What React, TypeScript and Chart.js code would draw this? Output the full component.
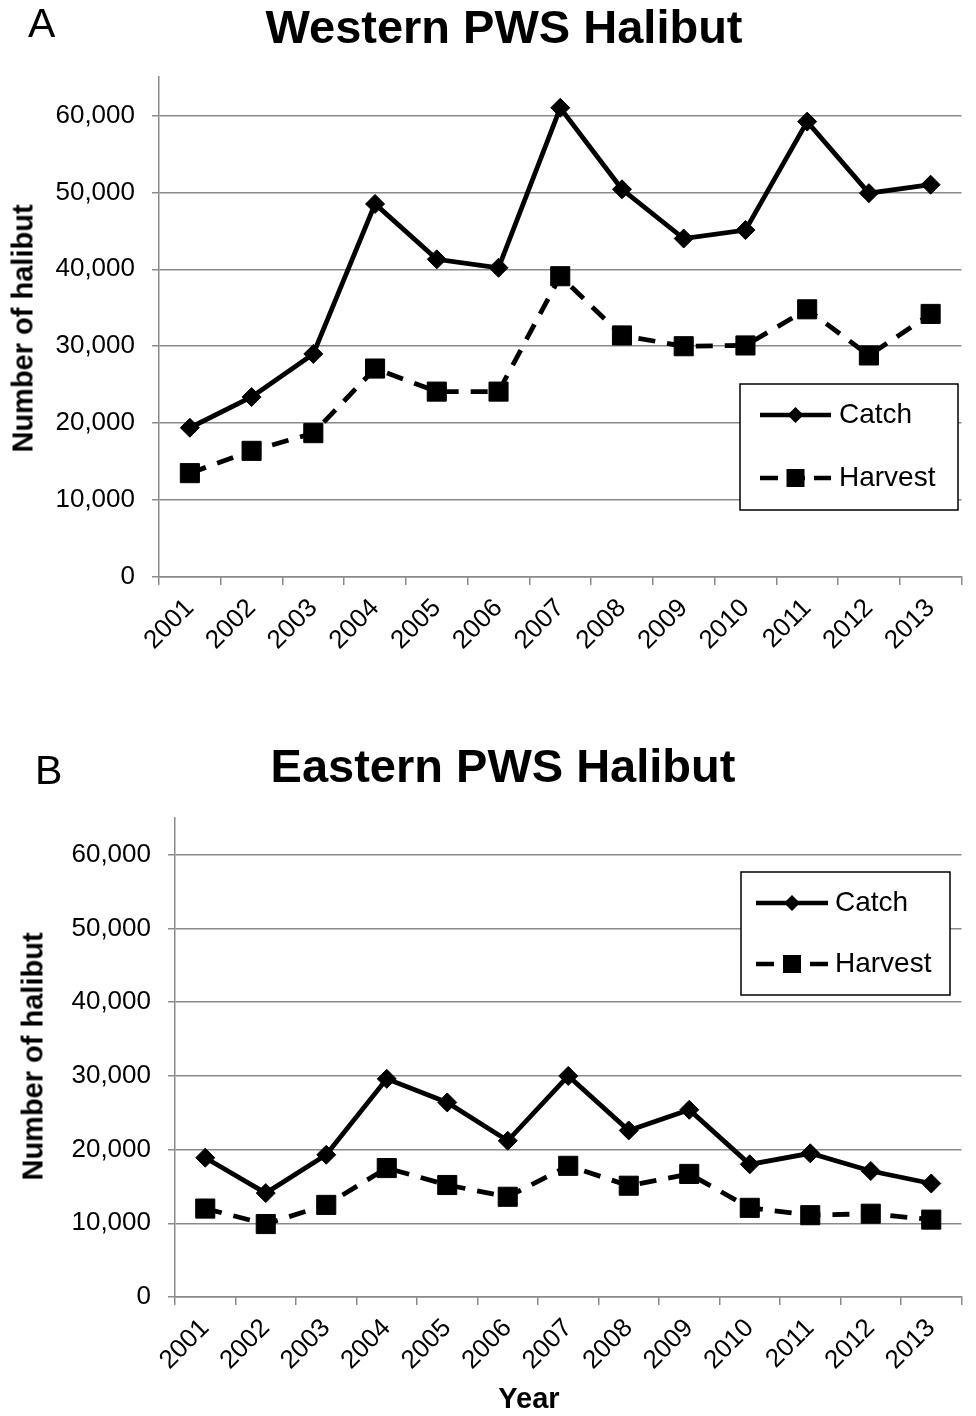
import React, { useEffect, useRef } from 'react';
import { Chart, registerables } from 'chart.js';

Chart.register(...registerables);

// ---------- data ----------
const years = ['2001', '2002', '2003', '2004', '2005', '2006', '2007', '2008', '2009', '2010', '2011', '2012', '2013'];
const westernCatch = [19400, 23400, 29000, 48500, 41300, 40200, 61000, 50400, 44000, 45100, 59200, 49900, 51000];
const westernHarvest = [13500, 16400, 18700, 27100, 24100, 24100, 39100, 31400, 30000, 30100, 34800, 28800, 34200];
const easternCatch = [18900, 14100, 19300, 29600, 26400, 21200, 30000, 22600, 25400, 18000, 19500, 17100, 15400];
const easternHarvest = [12000, 9900, 12500, 17500, 15200, 13600, 17800, 15100, 16700, 12100, 11100, 11300, 10500];
const yTickValues = [0, 10000, 20000, 30000, 40000, 50000, 60000];
const yMax = 65000;
const seriesNames = ['Catch', 'Harvest'];

const FONT = "'Liberation Sans', Arial, Helvetica, sans-serif";
const GRID = '#8a8a8a';
const TICK_FONT = 26;

type Box = { left: number; top: number; right: number; bottom: number; row1: number; row2: number; lineX0: number; lineX1: number; textX: number };

type PanelProps = {
  canvasTop: number;
  canvasHeight: number;
  plotTop: number;
  plotBottom: number;
  plotLeft: number;
  plotRight: number;
  catchData: number[];
  harvestData: number[];
  legend: Box;
};

function drawDiamond(ctx: CanvasRenderingContext2D, x: number, y: number, r: number) {
  ctx.beginPath();
  ctx.moveTo(x - r, y);
  ctx.lineTo(x, y - r);
  ctx.lineTo(x + r, y);
  ctx.lineTo(x, y + r);
  ctx.closePath();
  ctx.fill();
}

function Panel(p: PanelProps) {
  const ref = useRef<HTMLCanvasElement | null>(null);
  useEffect(() => {
    const canvas = ref.current;
    if (!canvas) return;
    const lg = p.legend;
    const top = p.canvasTop;
    const legendPlugin = {
      id: 'boxLegend',
      afterDraw(chart: any) {
        const ctx: CanvasRenderingContext2D = chart.ctx;
        ctx.save();
        ctx.fillStyle = '#fff';
        ctx.fillRect(lg.left, lg.top - top, lg.right - lg.left, lg.bottom - lg.top);
        ctx.strokeStyle = '#000';
        ctx.lineWidth = 1.5;
        ctx.strokeRect(lg.left, lg.top - top, lg.right - lg.left, lg.bottom - lg.top);
        const y1 = lg.row1 - top;
        const y2 = lg.row2 - top;
        const mid = (lg.lineX0 + lg.lineX1) / 2;
        ctx.lineWidth = 4.5;
        ctx.lineCap = 'butt';
        ctx.beginPath();
        ctx.moveTo(lg.lineX0, y1);
        ctx.lineTo(lg.lineX1, y1);
        ctx.stroke();
        ctx.fillStyle = '#000';
        drawDiamond(ctx, mid, y1, 8);
        ctx.setLineDash([18, 9]);
        ctx.beginPath();
        ctx.moveTo(lg.lineX0, y2);
        ctx.lineTo(lg.lineX1, y2);
        ctx.stroke();
        ctx.setLineDash([]);
        ctx.fillRect(mid - 9, y2 - 9, 18, 18);
        ctx.font = `28px ${FONT}`;
        ctx.textBaseline = 'middle';
        ctx.textAlign = 'left';
        ctx.fillText(seriesNames[0], lg.textX, y1);
        ctx.fillText(seriesNames[1], lg.textX, y2);
        ctx.restore();
      },
    };
    const chart = new Chart(canvas, {
      type: 'line',
      data: {
        labels: years,
        datasets: [
          {
            label: seriesNames[0],
            data: p.catchData,
            borderColor: '#000',
            backgroundColor: '#000',
            borderWidth: 4.8,
            pointStyle: 'rectRot',
            pointRadius: 9.5,
            pointBorderWidth: 1,
            tension: 0,
            fill: false,
            clip: false as any,
          },
          {
            label: seriesNames[1],
            data: p.harvestData,
            borderColor: '#000',
            backgroundColor: '#000',
            borderWidth: 4.8,
            borderDash: [17, 12],
            pointStyle: 'rect',
            pointRadius: 13.5,
            pointBorderWidth: 1,
            tension: 0,
            fill: false,
            clip: false as any,
          },
        ],
      },
      options: {
        responsive: false,
        maintainAspectRatio: false,
        animation: false,
        events: [],
        layout: {
          padding: { top: p.plotTop - p.canvasTop, right: 976 - p.plotRight, left: 0, bottom: 0 },
        },
        plugins: {
          legend: { display: false },
          title: { display: false },
          tooltip: { enabled: false },
        },
        scales: {
          x: {
            type: 'category',
            offset: true,
            grid: {
              offset: true,
              drawOnChartArea: false,
              drawTicks: true,
              tickLength: 8,
              color: GRID,
              lineWidth: 1.5,
            },
            border: { display: true, color: GRID, width: 1.5 },
            ticks: {
              autoSkip: false,
              minRotation: 45,
              maxRotation: 45,
              color: '#000',
              padding: 8,
              font: { family: FONT, size: TICK_FONT },
            },
            afterFit: (s: any) => {
              s.height = p.canvasTop + p.canvasHeight - p.plotBottom;
            },
          },
          y: {
            type: 'linear',
            min: 0,
            max: yMax,
            afterBuildTicks: (s: any) => {
              s.ticks = yTickValues.map((v) => ({ value: v }));
            },
            grid: {
              color: GRID,
              lineWidth: 1.5,
              drawTicks: true,
              tickLength: 7,
            },
            border: { display: true, color: GRID, width: 1.5 },
            ticks: {
              color: '#000',
              padding: 17,
              font: { family: FONT, size: TICK_FONT },
              callback: (v: any) => Number(v).toLocaleString('en-US'),
            },
            afterFit: (s: any) => {
              s.width = p.plotLeft;
            },
          },
        },
      },
      plugins: [legendPlugin],
    });
    return () => chart.destroy();
  }, []);
  return (
    <canvas
      ref={ref}
      width={976}
      height={p.canvasHeight}
      style={{ position: 'absolute', left: 0, top: p.canvasTop, width: 976, height: p.canvasHeight }}
    />
  );
}

function Txt(props: { x: number; baseline: number; size: number; bold?: boolean; align?: 'left' | 'center'; children: React.ReactNode }) {
  const { x, baseline, size, bold, align = 'center', children } = props;
  const w = 1000;
  return (
    <div
      style={{
        position: 'absolute',
        left: align === 'center' ? x - w / 2 : x,
        top: baseline - 0.8465 * size,
        width: align === 'center' ? w : undefined,
        textAlign: align,
        fontFamily: FONT,
        fontSize: size,
        lineHeight: `${size}px`,
        fontWeight: bold ? 'bold' : 'normal',
        whiteSpace: 'nowrap',
        color: '#000',
      }}
    >
      {children}
    </div>
  );
}

function VTxt(props: { cx: number; cy: number; size: number; children: React.ReactNode }) {
  const { cx, cy, size, children } = props;
  const w = 400;
  return (
    <div
      style={{
        position: 'absolute',
        left: cx - w / 2,
        top: cy - size / 2,
        width: w,
        height: size,
        lineHeight: `${size}px`,
        textAlign: 'center',
        transform: 'rotate(-90deg)',
        fontFamily: FONT,
        fontSize: size,
        fontWeight: 'bold',
        whiteSpace: 'nowrap',
        color: '#000',
      }}
    >
      {children}
    </div>
  );
}

export default function App() {
  return (
    <div style={{ position: 'absolute', left: 0, top: 0, width: 976, height: 1416, background: '#fff', overflow: 'hidden' }}>
      <Panel
        canvasTop={37}
        canvasHeight={663}
        plotTop={77}
        plotBottom={577}
        plotLeft={159}
        plotRight={976}
        catchData={westernCatch}
        harvestData={westernHarvest}
        legend={{ left: 740, top: 384, right: 958, bottom: 510, row1: 415, row2: 478, lineX0: 760, lineX1: 831, textX: 839 }}
      />
      <Panel
        canvasTop={778}
        canvasHeight={638}
        plotTop={818}
        plotBottom={1297}
        plotLeft={175}
        plotRight={966}
        catchData={easternCatch}
        harvestData={easternHarvest}
        legend={{ left: 741, top: 872, right: 950, bottom: 995, row1: 903, row2: 964, lineX0: 756, lineX1: 828, textX: 835 }}
      />
      <Txt x={28} baseline={38} size={41} align="left">A</Txt>
      <Txt x={504} baseline={43} size={47} bold>Western PWS Halibut</Txt>
      <VTxt cx={23} cy={328} size={29}>Number of halibut</VTxt>
      <Txt x={35} baseline={785} size={41} align="left">B</Txt>
      <Txt x={503} baseline={782} size={47} bold>Eastern PWS Halibut</Txt>
      <VTxt cx={33} cy={1056} size={29}>Number of halibut</VTxt>
      <Txt x={529} baseline={1409} size={29} bold>Year</Txt>
    </div>
  );
}
